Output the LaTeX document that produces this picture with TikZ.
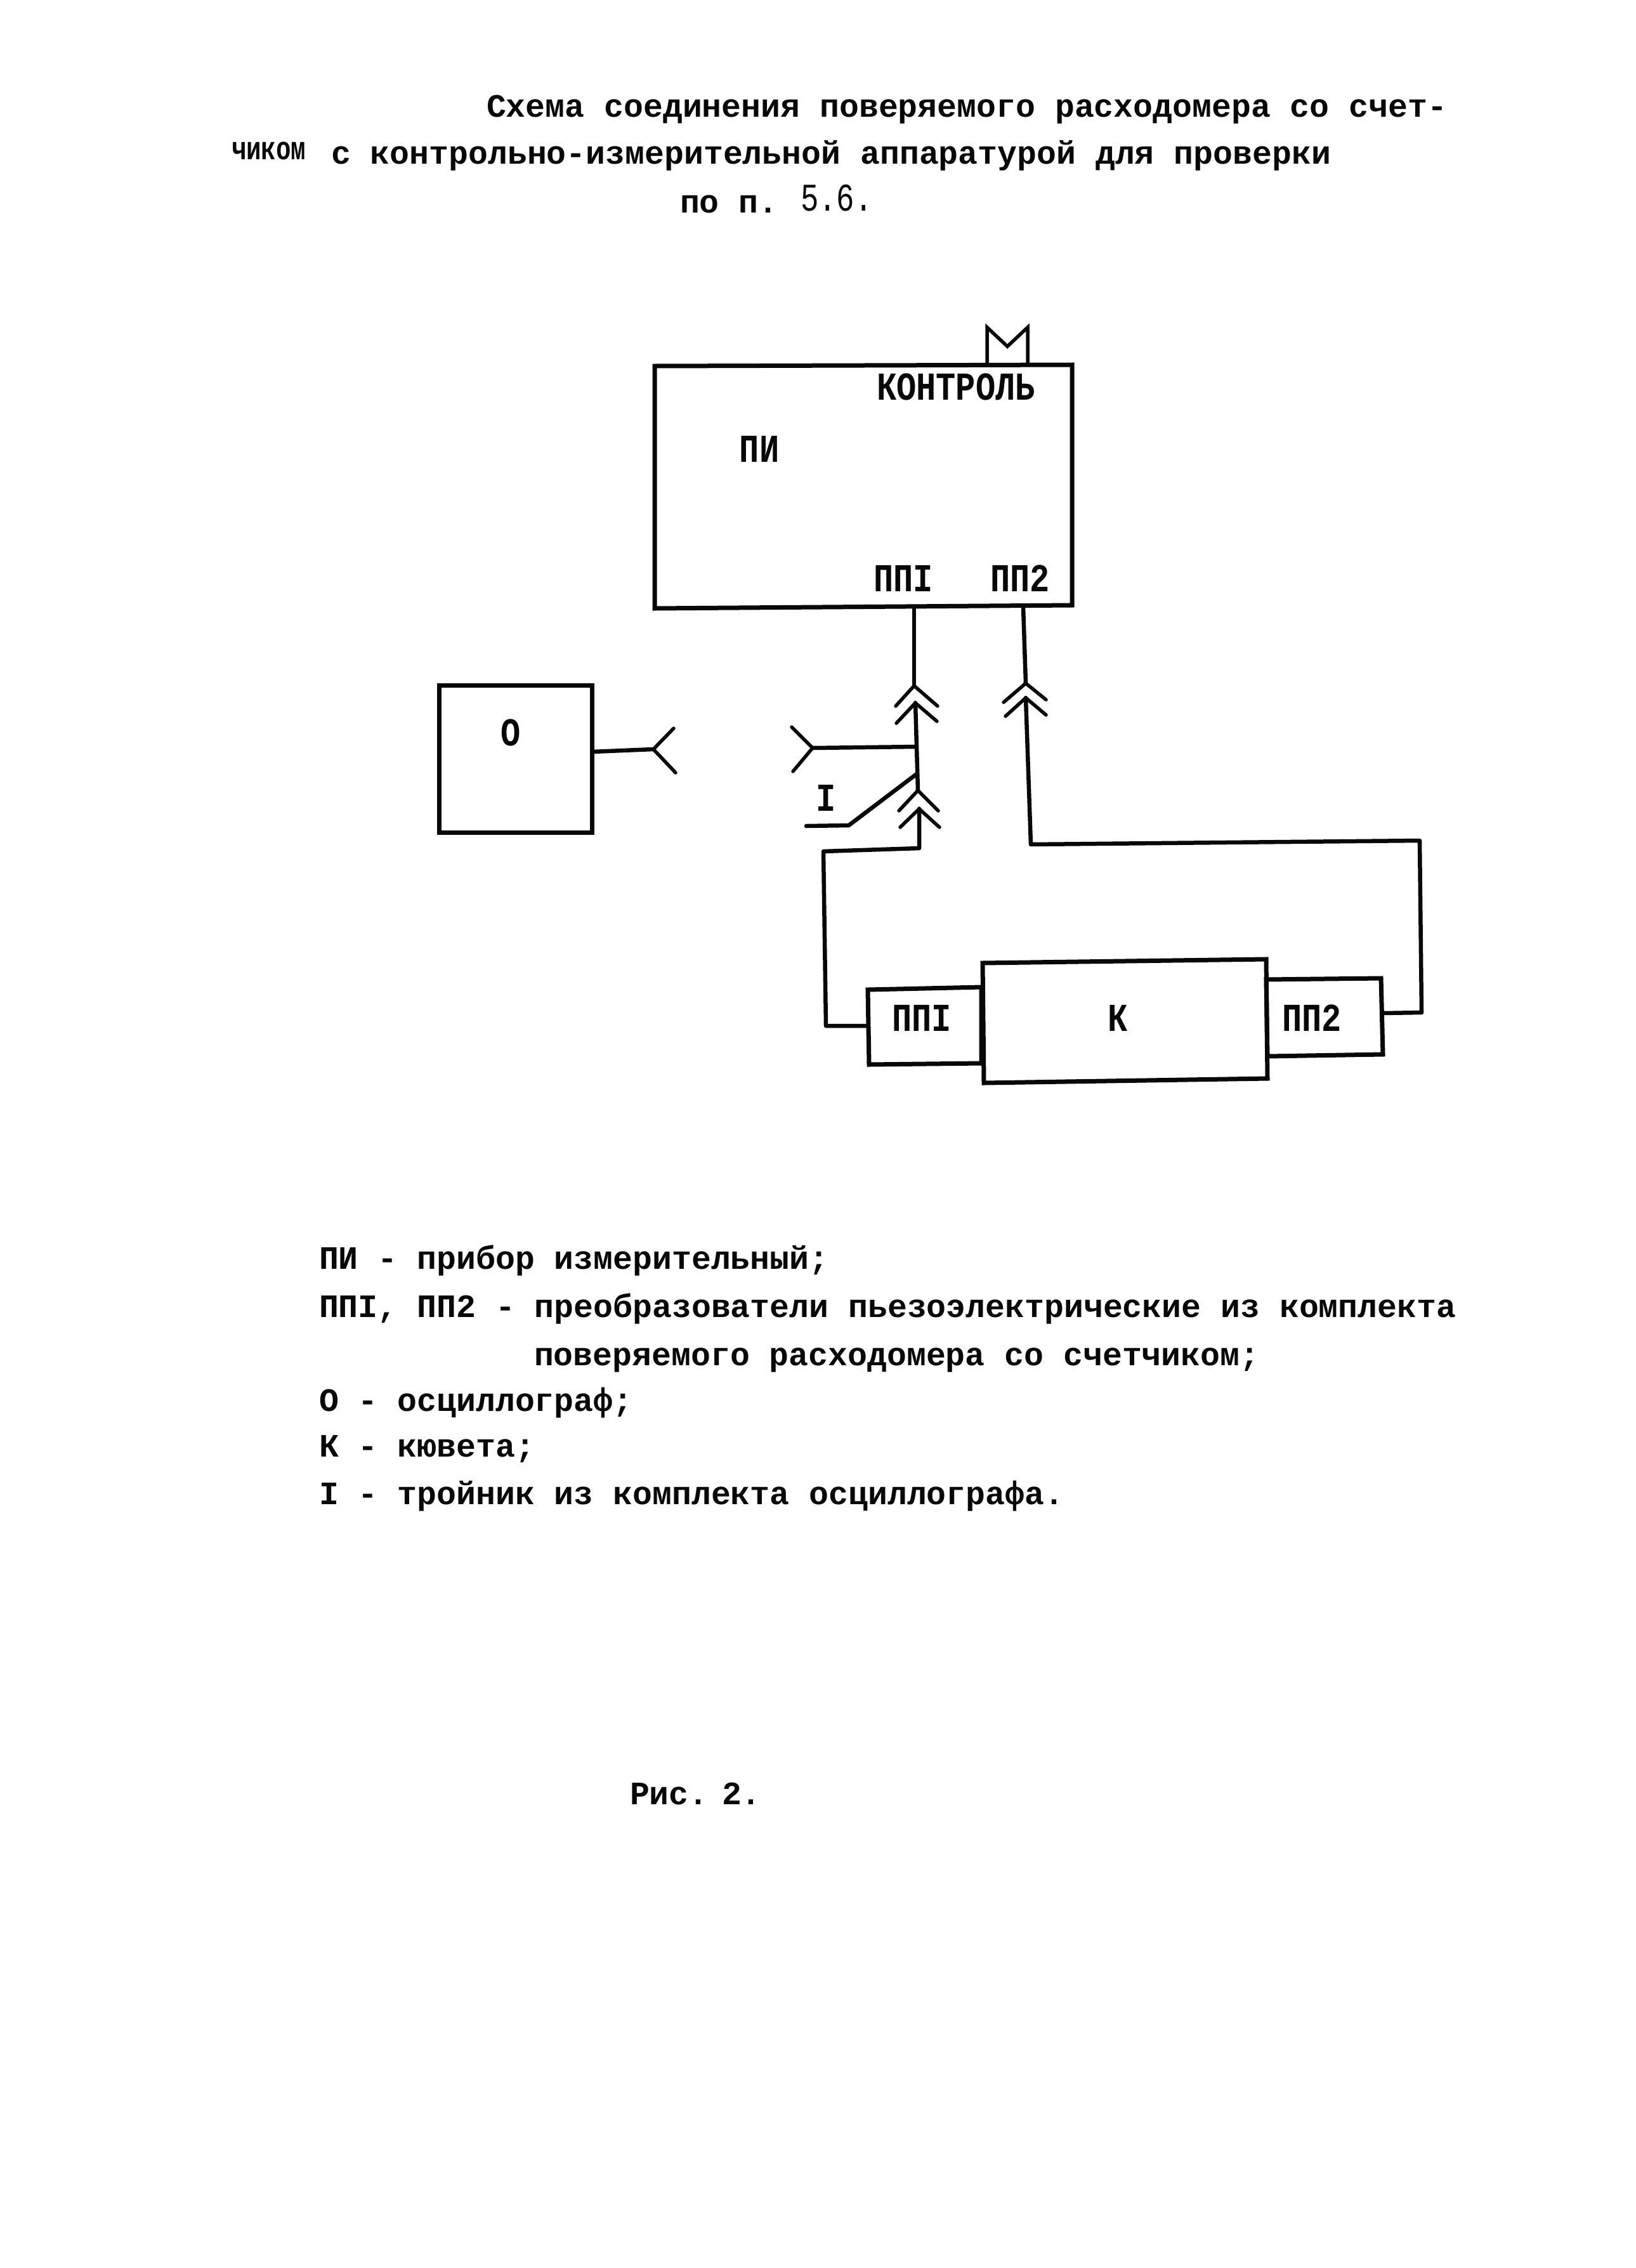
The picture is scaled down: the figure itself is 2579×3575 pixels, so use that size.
\documentclass[tikz,border=0pt]{standalone}
\usepackage{fontspec}
\usepackage{graphicx}
\setmainfont{Liberation Mono}
\definecolor{ink}{gray}{0.03}
\newcommand{\tallcaps}[1]{\scalebox{1}[1.2]{#1}}
\newcommand{\narrowword}[1]{\scalebox{0.76}[1]{#1}}
\newcommand{\thinnums}[1]{\scalebox{0.92}[1.2]{\mdseries #1}}
\tikzset{
 x=1pt,y=-1pt,
 wire/.style={draw=ink,line width=6.5pt,line join=round,line cap=round},
 forkline/.style={draw=ink,line width=5.5pt,line join=miter,line cap=round},
 boxline/.style={draw=ink,line width=7pt,line join=miter},
 body/.style={anchor=base west,inner sep=0pt,outer sep=0pt,text=ink,font=\fontsize{51.5}{51.5}\selectfont\bfseries},
 lbl/.style={anchor=center,inner sep=0pt,outer sep=0pt,text=ink,font=\fontsize{52}{52}\selectfont\bfseries},
}
\begin{document}
\begin{tikzpicture}
\useasboundingbox (0,0) rectangle (2579,3575);
% heading
\node[body] (h1) at (767,185) {Схема соединения поверяемого расходомера со счет-};
\node[body] (h2a) at (365,252) {\narrowword{чиком}};
\node[body] (h2b) at (522,259) {с контрольно-измерительной аппаратурой для проверки};
\node[body] (h3) at (1072,335) {по п.};
\node[body] (h3n) at (1262,332) {\thinnums{5.6.}};
% instrument box
\coordinate (PIa) at (1032,577);
\coordinate (PIb) at (1690,575);
\coordinate (PIc) at (1690,954);
\coordinate (PId) at (1032,959);
\draw[boxline] (PIa) -- (PIb) -- (PIc) -- (PId) -- cycle;
\node[lbl] (kontrol) at (1507,610) {\tallcaps{КОНТРОЛЬ}};
\node[lbl] (pi) at (1197,708) {\tallcaps{ПИ}};
\node[lbl] (pp1top) at (1424,912) {\tallcaps{ППI}};
\node[lbl] (pp2top) at (1608,912) {\tallcaps{ПП2}};
\draw[forkline] (1556,575) -- (1556,516) -- (1588,546) -- (1620,516) -- (1620,575);
% oscillograph
\node[boxline,minimum width=241pt,minimum height=232pt,inner sep=0pt] (O) at (812.5,1196) {};
\node[lbl] (Olbl) at (805,1155) {\tallcaps{О}};
\coordinate (ow) at (933,1185);
\coordinate (fl) at (1030,1181);
\draw[wire] (ow) -- (fl);
\draw[forkline] (1062,1148) -- (fl) -- (1065,1218);
\coordinate (fr) at (1281,1179);
\coordinate (j) at (1445,1177);
\draw[forkline] (1248,1146) -- (fr) -- (1250,1216);
\draw[wire] (fr) -- (j);
% PP1 column
\coordinate (pw1) at (1441,957);
\coordinate (c1) at (1441,1081);
\coordinate (c2) at (1443,1108);
\coordinate (c3) at (1447,1246);
\coordinate (c4) at (1449,1275);
\coordinate (td) at (1445,1220);
\draw[wire] (pw1) -- (c1);
\draw[wire] (c2) -- (c3);
\draw[forkline] (1412,1113) -- (c1) -- (1478,1113);
\draw[forkline] (1413,1140) -- (c2) -- (1477,1137);
\draw[forkline] (1417,1278) -- (c3) -- (1479,1278);
\draw[forkline] (1419,1304) -- (c4) -- (1481,1304);
\draw[wire] (td) -- (1338,1301) -- (1271,1302);
\node[lbl] (I) at (1302,1258) {\tallcaps{I}};
% PP2 column
\coordinate (pw2) at (1613,957);
\coordinate (d1) at (1617,1077);
\coordinate (d2) at (1617,1100);
\draw[wire] (pw2) -- (d1);
\draw[forkline] (1582,1107) -- (d1) -- (1649,1103);
\draw[forkline] (1585,1129) -- (d2) -- (1649,1127);
% transducers and cell
\draw[boxline] (1368,1560) -- (1547,1556) -- (1547,1676) -- (1370,1678) -- cycle;
\draw[boxline] (1549,1518) -- (1996,1512) -- (1998,1700) -- (1551,1707) -- cycle;
\draw[boxline] (1996,1544) -- (2177,1542) -- (2180,1662) -- (1998,1665) -- cycle;
\node[lbl] (pp1b) at (1453,1605) {\tallcaps{ППI}};
\node[lbl] (k) at (1762,1605) {\tallcaps{К}};
\node[lbl] (pp2b) at (2068,1605) {\tallcaps{ПП2}};
\coordinate (pa) at (1368,1617);
\coordinate (pb) at (2180,1597);
\draw[wire] (c4) -- (1449,1337) -- (1298,1342) -- (1302,1617) -- (pa);
\draw[wire] (d2) -- (1625,1331) -- (2238,1325) -- (2241,1596) -- (pb);
% legend
\node[body] (l1) at (503,2000) {ПИ - прибор измерительный;};
\node[body] (l2) at (503,2076) {ППI, ПП2 - преобразователи пьезоэлектрические из комплекта};
\node[body] (l3) at (842,2152) {поверяемого расходомера со счетчиком;};
\node[body] (l4) at (503,2224) {О - осциллограф;};
\node[body] (l5) at (503,2296) {К - кювета;};
\node[body] (l6) at (503,2371) {I - тройник из комплекта осциллографа.};
\node[body] (cap) at (993,2844) {Рис.};
\node[body] (capn) at (1138,2844) {2.};
\end{tikzpicture}
\end{document}
